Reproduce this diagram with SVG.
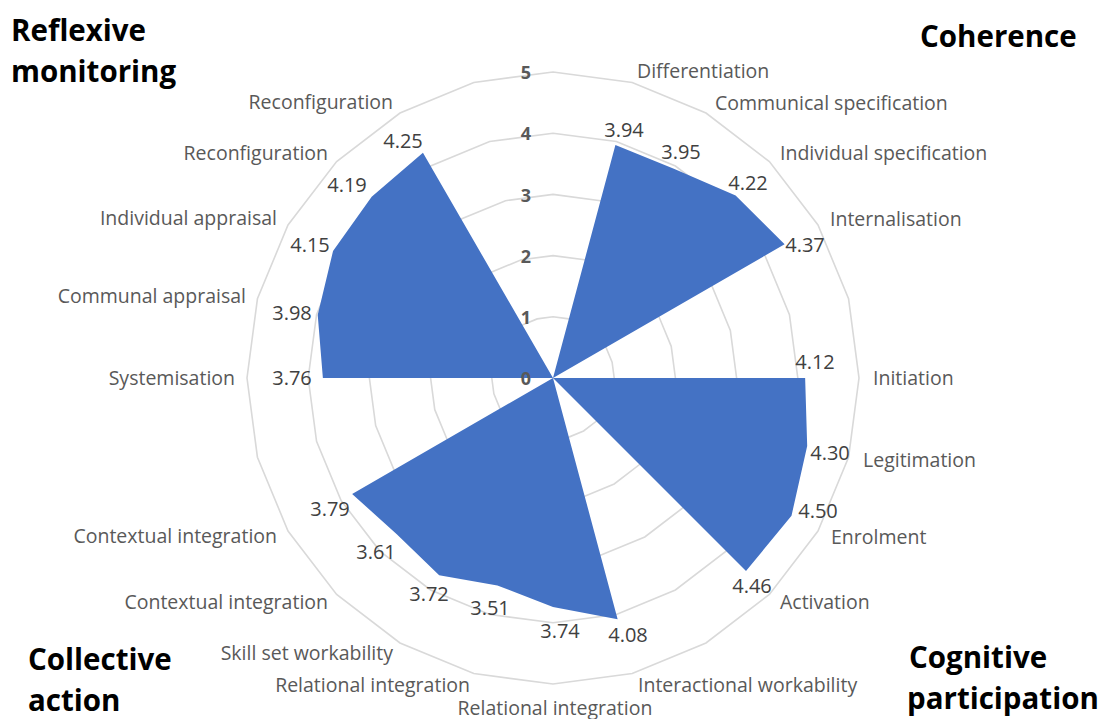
<svg xmlns="http://www.w3.org/2000/svg" xmlns:xlink="http://www.w3.org/1999/xlink" width="1099" height="719" viewBox="0 0 1099 719">
<style>
.cat{font-family:"Open Sans","Liberation Sans",sans-serif;font-size:19.5px;fill:#595959}
.val{font-family:"Open Sans","Liberation Sans",sans-serif;font-size:20px;fill:#404040;text-anchor:middle}
.ax{font-family:"Open Sans","Liberation Sans",sans-serif;font-size:18px;font-weight:bold;fill:#595959;text-anchor:middle}
.hd{font-family:"Open Sans","Liberation Sans",sans-serif;font-size:29.5px;font-weight:bold;fill:#000}
.s{text-anchor:start}.e{text-anchor:end}.m{text-anchor:middle}
</style>
<defs>
<polygon id="ring" fill="none" stroke="#d9d9d9" stroke-width="1.6" vector-effect="non-scaling-stroke" points="0,-1 .2588,-.9659 .5,-.866 .7071,-.7071 .866,-.5 .9659,-.2588 1,0 .9659,.2588 .866,.5 .7071,.7071 .5,.866 .2588,.9659 0,1 -.2588,.9659 -.5,.866 -.7071,.7071 -.866,.5 -.9659,.2588 -1,0 -.9659,-.2588 -.866,-.5 -.7071,-.7071 -.5,-.866 -.2588,-.9659"/>
</defs>
<rect width="1099" height="719" fill="#fff"/>
<g id="gridlines">
<use xlink:href="#ring" transform="translate(553,378) scale(61.2)"/>
<use xlink:href="#ring" transform="translate(553,378) scale(122.4)"/>
<use xlink:href="#ring" transform="translate(553,378) scale(183.6)"/>
<use xlink:href="#ring" transform="translate(553,378) scale(244.8)"/>
<use xlink:href="#ring" transform="translate(553,378) scale(306)"/>
</g>
<g id="series">
<path fill="#4472c4" d="M553,378 L615.41,145.09 L673.87,168.65 L735.62,195.38 L784.61,244.28 Z M553,378 L805.14,378 L807.19,446.11 L791.5,515.7 L746.01,571.01 Z M553,378 L617.63,619.19 L553,606.89 L497.4,585.49 L439.17,575.16 L396.78,534.22 L352.13,493.97 Z M553,378 L322.89,378 L317.72,314.96 L333.05,251.01 L371.68,196.68 L422.95,152.74 Z"/>
</g>
<g id="axis">
<text class="ax" x="526" y="385">0</text>
<text class="ax" x="526" y="324">1</text>
<text class="ax" x="526" y="263">2</text>
<text class="ax" x="526" y="202">3</text>
<text class="ax" x="526" y="140">4</text>
<text class="ax" x="526" y="79">5</text>
</g>
<g id="categories">
<text class="cat s" x="637" y="78">Differentiation</text>
<text class="cat s" x="715" y="110">Communical specification</text>
<text class="cat s" x="780" y="160">Individual specification</text>
<text class="cat s" x="830" y="226">Internalisation</text>
<text class="cat s" x="873" y="385">Initiation</text>
<text class="cat s" x="863" y="467">Legitimation</text>
<text class="cat s" x="831" y="544">Enrolment</text>
<text class="cat s" x="780" y="609">Activation</text>
<text class="cat s" x="638" y="692">Interactional workability</text>
<text class="cat m" x="555" y="715">Relational integration</text>
<text class="cat e" x="470" y="692">Relational integration</text>
<text class="cat e" x="393" y="660">Skill set workability</text>
<text class="cat e" x="328" y="609">Contextual integration</text>
<text class="cat e" x="277" y="543">Contextual integration</text>
<text class="cat e" x="235" y="385">Systemisation</text>
<text class="cat e" x="246" y="303">Communal appraisal</text>
<text class="cat e" x="277" y="225">Individual appraisal</text>
<text class="cat e" x="328" y="160">Reconfiguration</text>
<text class="cat e" x="393" y="109">Reconfiguration</text>
</g>
<g id="values">
<text class="val" x="624" y="137">3.94</text>
<text class="val" x="681" y="159">3.95</text>
<text class="val" x="748" y="190">4.22</text>
<text class="val" x="805" y="252">4.37</text>
<text class="val" x="815" y="369">4.12</text>
<text class="val" x="830" y="460">4.30</text>
<text class="val" x="818" y="518">4.50</text>
<text class="val" x="752" y="593">4.46</text>
<text class="val" x="628" y="642">4.08</text>
<text class="val" x="560" y="638">3.74</text>
<text class="val" x="490" y="615">3.51</text>
<text class="val" x="429" y="601">3.72</text>
<text class="val" x="376" y="559">3.61</text>
<text class="val" x="330" y="516">3.79</text>
<text class="val" x="292" y="385">3.76</text>
<text class="val" x="292" y="320">3.98</text>
<text class="val" x="310" y="252">4.15</text>
<text class="val" x="347" y="192">4.19</text>
<text class="val" x="403" y="148">4.25</text>
</g>
<g id="headers">
<text class="hd" x="11" y="41">Reflexive</text>
<text class="hd" x="11" y="82">monitoring</text>
<text class="hd" x="920" y="47">Coherence</text>
<text class="hd" x="28" y="670">Collective</text>
<text class="hd" x="28" y="711">action</text>
<text class="hd" x="909" y="668">Cognitive</text>
<text class="hd" x="907" y="709">participation</text>
</g>
</svg>
